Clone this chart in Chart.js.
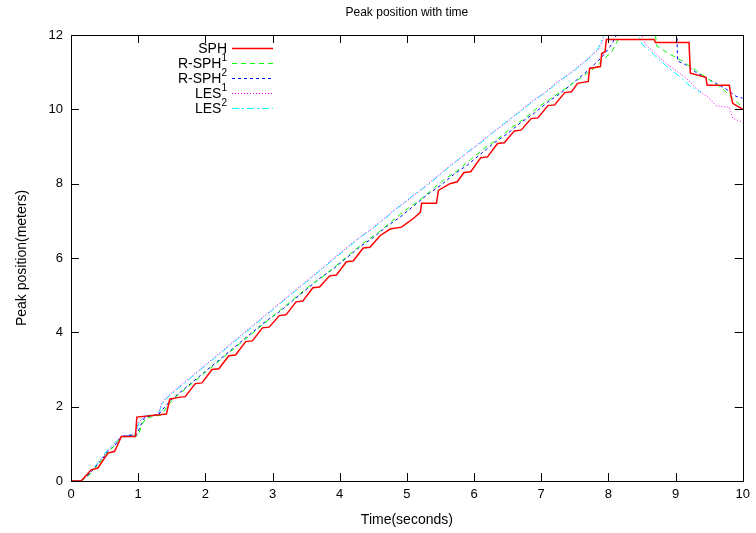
<!DOCTYPE html>
<html>
<head>
<meta charset="utf-8">
<script src="https://cdn.jsdelivr.net/npm/chart.js@4.4.1/dist/chart.umd.min.js"></script>
<style>
  html, body { margin: 0; padding: 0; background: #fff; }
  canvas { display: block; }
</style>
</head>
<body>
<canvas id="peakCanvas" width="756" height="533"></canvas>
<script>
// values
const seriesLabels = ['SPH', 'R-SPH\u00b9', 'R-SPH\u00b2', 'LES\u00b9', 'LES\u00b2'];
const xTicks = [0, 1, 2, 3, 4, 5, 6, 7, 8, 9, 10];
const yTicks = [0, 2, 4, 6, 8, 10, 12];

const sphTime = [0, 0.15, 0.3, 0.4, 0.55, 0.65, 0.75, 0.96, 0.98, 1.42, 1.47, 1.6, 1.7, 1.85, 1.95, 2.1, 2.2, 2.35, 2.45, 2.6, 2.7, 2.85, 2.95, 3.1, 3.2, 3.35, 3.45, 3.6, 3.7, 3.85, 3.95, 4.1, 4.2, 4.35, 4.45, 4.6, 4.75, 4.92, 5.1, 5.2, 5.22, 5.44, 5.47, 5.64, 5.75, 5.85, 5.95, 6.1, 6.2, 6.35, 6.45, 6.6, 6.7, 6.85, 6.95, 7.1, 7.2, 7.35, 7.45, 7.54, 7.7, 7.72, 7.88, 7.9, 7.95, 7.97, 8.68, 8.7, 9.2, 9.22, 9.45, 9.47, 9.8, 9.82, 9.85, 10.0];
const sphPeak = [0, 0, 0.3, 0.35, 0.75, 0.8, 1.2, 1.2, 1.72, 1.8, 2.2, 2.25, 2.27, 2.62, 2.64, 3.0, 3.02, 3.37, 3.39, 3.75, 3.77, 4.12, 4.14, 4.45, 4.47, 4.82, 4.84, 5.2, 5.22, 5.52, 5.54, 5.9, 5.92, 6.27, 6.29, 6.6, 6.78, 6.83, 7.07, 7.23, 7.47, 7.47, 7.82, 8.0, 8.05, 8.3, 8.32, 8.7, 8.72, 9.08, 9.1, 9.42, 9.44, 9.75, 9.77, 10.1, 10.12, 10.45, 10.47, 10.7, 10.75, 11.1, 11.15, 11.5, 11.55, 11.88, 11.88, 11.8, 11.8, 10.97, 10.86, 10.65, 10.65, 10.4, 10.16, 10.0];

const rsph1Time = [0, 0.15, 0.25, 0.35, 0.45, 0.55, 0.65, 0.75, 1.0, 1.05, 1.12, 1.35, 1.45, 1.55, 1.75, 1.95, 2.15, 2.35, 2.55, 2.75, 2.95, 3.15, 3.35, 3.55, 3.75, 3.95, 4.15, 4.35, 4.55, 4.75, 4.95, 5.15, 5.35, 5.55, 5.75, 5.95, 6.15, 6.35, 6.55, 6.75, 6.95, 7.15, 7.35, 7.55, 7.75, 7.9, 8.05, 8.18, 8.7, 8.72, 8.9, 9.1, 9.3, 9.5, 9.7, 9.85, 10.0];
const rsph1Peak = [0, 0, 0.12, 0.32, 0.55, 0.78, 0.95, 1.18, 1.22, 1.5, 1.7, 1.78, 2.05, 2.25, 2.55, 2.85, 3.15, 3.45, 3.75, 4.05, 4.35, 4.65, 4.95, 5.25, 5.5, 5.8, 6.1, 6.4, 6.65, 6.95, 7.25, 7.5, 7.8, 8.1, 8.35, 8.65, 8.95, 9.2, 9.5, 9.75, 10.05, 10.3, 10.55, 10.8, 11.05, 11.3, 11.55, 12.0, 12.0, 11.7, 11.5, 11.3, 11.05, 10.8, 10.55, 10.3, 10.05];

const rsph2Time = [0, 0.15, 0.25, 0.35, 0.45, 0.55, 0.65, 0.75, 0.98, 1.05, 1.1, 1.3, 1.4, 1.5, 1.7, 1.9, 2.1, 2.3, 2.5, 2.7, 2.9, 3.1, 3.3, 3.5, 3.7, 3.9, 4.1, 4.3, 4.5, 4.7, 4.9, 5.1, 5.3, 5.5, 5.7, 5.9, 6.1, 6.3, 6.5, 6.7, 6.9, 7.1, 7.3, 7.5, 7.7, 7.9, 8.05, 8.12, 9.02, 9.03, 9.15, 9.3, 9.45, 9.6, 9.75, 9.9, 10.0];
const rsph2Peak = [0, 0, 0.15, 0.35, 0.55, 0.8, 0.95, 1.2, 1.25, 1.55, 1.72, 1.78, 2.0, 2.2, 2.5, 2.8, 3.1, 3.4, 3.7, 4.0, 4.3, 4.55, 4.85, 5.15, 5.45, 5.7, 6.0, 6.3, 6.55, 6.85, 7.1, 7.4, 7.7, 7.95, 8.25, 8.5, 8.8, 9.1, 9.35, 9.65, 9.9, 10.2, 10.45, 10.75, 11.05, 11.4, 11.75, 12.0, 12.0, 11.3, 11.2, 11.0, 10.85, 10.7, 10.55, 10.35, 10.3];

const les1Time = [0, 0.15, 0.25, 0.35, 0.45, 0.55, 0.65, 0.75, 0.95, 1.0, 1.08, 1.3, 1.35, 1.45, 1.65, 1.85, 2.05, 2.25, 2.45, 2.65, 2.85, 3.05, 3.25, 3.45, 3.65, 3.85, 4.05, 4.25, 4.45, 4.65, 4.85, 5.05, 5.25, 5.45, 5.65, 5.85, 6.05, 6.25, 6.45, 6.65, 6.85, 7.05, 7.25, 7.45, 7.65, 7.85, 7.95, 8.5, 8.55, 8.7, 8.85, 9.0, 9.15, 9.35, 9.5, 9.6, 9.8, 9.85, 10.0];
const les1Peak = [0, 0, 0.15, 0.35, 0.6, 0.82, 1.0, 1.2, 1.25, 1.55, 1.72, 1.8, 2.1, 2.3, 2.6, 2.9, 3.2, 3.5, 3.8, 4.1, 4.4, 4.7, 5.0, 5.3, 5.6, 5.9, 6.2, 6.5, 6.75, 7.05, 7.35, 7.6, 7.9, 8.2, 8.5, 8.75, 9.05, 9.35, 9.6, 9.9, 10.2, 10.45, 10.75, 11.0, 11.3, 11.6, 12.0, 12.0, 11.75, 11.5, 11.25, 11.05, 10.85, 10.5, 10.3, 10.1, 10.05, 9.76, 9.65];

const les2Time = [0, 0.15, 0.25, 0.35, 0.45, 0.55, 0.65, 0.75, 0.95, 1.02, 1.1, 1.3, 1.38, 1.5, 1.7, 1.9, 2.1, 2.3, 2.5, 2.7, 2.9, 3.1, 3.3, 3.5, 3.7, 3.9, 4.1, 4.3, 4.5, 4.7, 4.9, 5.1, 5.3, 5.5, 5.7, 5.9, 6.1, 6.3, 6.5, 6.7, 6.9, 7.1, 7.3, 7.5, 7.7, 7.85, 7.93, 8.45, 8.5, 8.6, 8.75, 8.9, 9.05, 9.2, 9.38];
const les2Peak = [0, 0, 0.18, 0.38, 0.6, 0.85, 1.02, 1.2, 1.25, 1.6, 1.75, 1.8, 2.15, 2.35, 2.65, 2.95, 3.25, 3.55, 3.85, 4.15, 4.45, 4.75, 5.05, 5.35, 5.65, 5.95, 6.25, 6.55, 6.8, 7.1, 7.4, 7.7, 7.95, 8.25, 8.55, 8.85, 9.1, 9.4, 9.7, 9.95, 10.25, 10.5, 10.8, 11.05, 11.35, 11.65, 12.0, 12.0, 11.75, 11.6, 11.35, 11.1, 10.9, 10.65, 10.45];

const font = 'Liberation Sans, Arial, sans-serif';
const supChars = {'\u00b9': '1', '\u00b2': '2'};

function toPoints(times, values) {
    return times.map((t, i) => ({x: t, y: values[i]}));
}

// gnuplot-like frame with inward ticks on all sides, title and key
const frameTicks = {
    id: 'frameTicks',
    afterDatasetsDraw(chart) {
        const ctx = chart.ctx;
        const a = chart.chartArea;
        const x = chart.scales.x;
        const y = chart.scales.y;
        ctx.save();
        ctx.strokeStyle = '#000';
        ctx.lineWidth = 1;
        ctx.beginPath();
        xTicks.forEach(v => {
            const px = Math.round(x.getPixelForValue(v)) + 0.5;
            ctx.moveTo(px, a.bottom); ctx.lineTo(px, a.bottom - 8);
            ctx.moveTo(px, a.top); ctx.lineTo(px, a.top + 8);
        });
        yTicks.forEach(v => {
            const py = Math.round(y.getPixelForValue(v)) + 0.5;
            ctx.moveTo(a.left, py); ctx.lineTo(a.left + 8, py);
            ctx.moveTo(a.right, py); ctx.lineTo(a.right - 8, py);
        });
        ctx.stroke();
        ctx.strokeRect(Math.round(a.left) + 0.5, Math.round(a.top) + 0.5,
            Math.round(a.right - a.left), Math.round(a.bottom - a.top));

        ctx.fillStyle = '#000';
        ctx.font = '12px ' + font;
        ctx.textAlign = 'center';
        ctx.textBaseline = 'middle';
        ctx.fillText('Peak position with time', (a.left + a.right) / 2, 13);

        // key
        chart.data.datasets.forEach((ds, i) => {
            const rowY = 48 + i * 15;
            let base = ds.label;
            let sup = '';
            const last = base.slice(-1);
            if (supChars[last]) {
                sup = supChars[last];
                base = base.slice(0, -1);
            }
            ctx.fillStyle = '#000';
            ctx.textAlign = 'right';
            ctx.textBaseline = 'middle';
            let right = 227;
            if (sup) {
                ctx.font = '10px ' + font;
                ctx.fillText(sup, right, rowY - 5);
                right -= ctx.measureText(sup).width;
            }
            ctx.font = '14px ' + font;
            ctx.fillText(base, right, rowY + 1);

            ctx.strokeStyle = ds.borderColor;
            ctx.lineWidth = ds.borderWidth;
            ctx.setLineDash(ds.borderDash || []);
            ctx.beginPath();
            ctx.moveTo(232, rowY + 0.5);
            ctx.lineTo(273, rowY + 0.5);
            ctx.stroke();
        });
        ctx.restore();
    }
};

const lineStyles = [
    {color: '#ff0000', dash: [], width: 1.5},
    {color: '#00ff00', dash: [5, 4], width: 1},
    {color: '#0000ff', dash: [3, 3], width: 1},
    {color: '#ff00ff', dash: [1, 2], width: 1},
    {color: '#00ffff', dash: [7, 3, 2, 3], width: 1}
];

const seriesData = [
    toPoints(sphTime, sphPeak),
    toPoints(rsph1Time, rsph1Peak),
    toPoints(rsph2Time, rsph2Peak),
    toPoints(les1Time, les1Peak),
    toPoints(les2Time, les2Peak)
];

const canvas = document.getElementById('peakCanvas');
new Chart(canvas.getContext('2d'), {
    type: 'line',
    data: {
        datasets: seriesLabels.map((label, i) => ({
            label: label,
            data: seriesData[i],
            borderColor: lineStyles[i].color,
            borderDash: lineStyles[i].dash,
            borderWidth: lineStyles[i].width,
            pointRadius: 0,
            fill: false,
            tension: 0
        }))
    },
    options: {
        responsive: false,
        animation: false,
        layout: {padding: {top: 35, right: 10, left: 0, bottom: 0}},
        plugins: {
            legend: {display: false},
            title: {display: false},
            tooltip: {enabled: false}
        },
        scales: {
            x: {
                type: 'linear',
                min: 0,
                max: 10,
                ticks: {stepSize: 1, color: '#000', font: {family: font, size: 13}, padding: 6, maxRotation: 0},
                grid: {display: false, drawTicks: false},
                border: {display: false},
                title: {display: true, text: 'Time(seconds)', color: '#000', font: {family: font, size: 14}, padding: {top: 4, bottom: 4}},
                afterFit: s => { s.height = 52; }
            },
            y: {
                min: 0,
                max: 12,
                ticks: {stepSize: 2, color: '#000', font: {family: font, size: 13}, padding: 8},
                grid: {display: false, drawTicks: false},
                border: {display: false},
                title: {display: true, text: 'Peak position(meters)', color: '#000', font: {family: font, size: 14}, padding: {top: 14, bottom: 4}},
                afterFit: s => { s.width = 71; }
            }
        }
    },
    plugins: [frameTicks]
});
</script>
</body>
</html>
